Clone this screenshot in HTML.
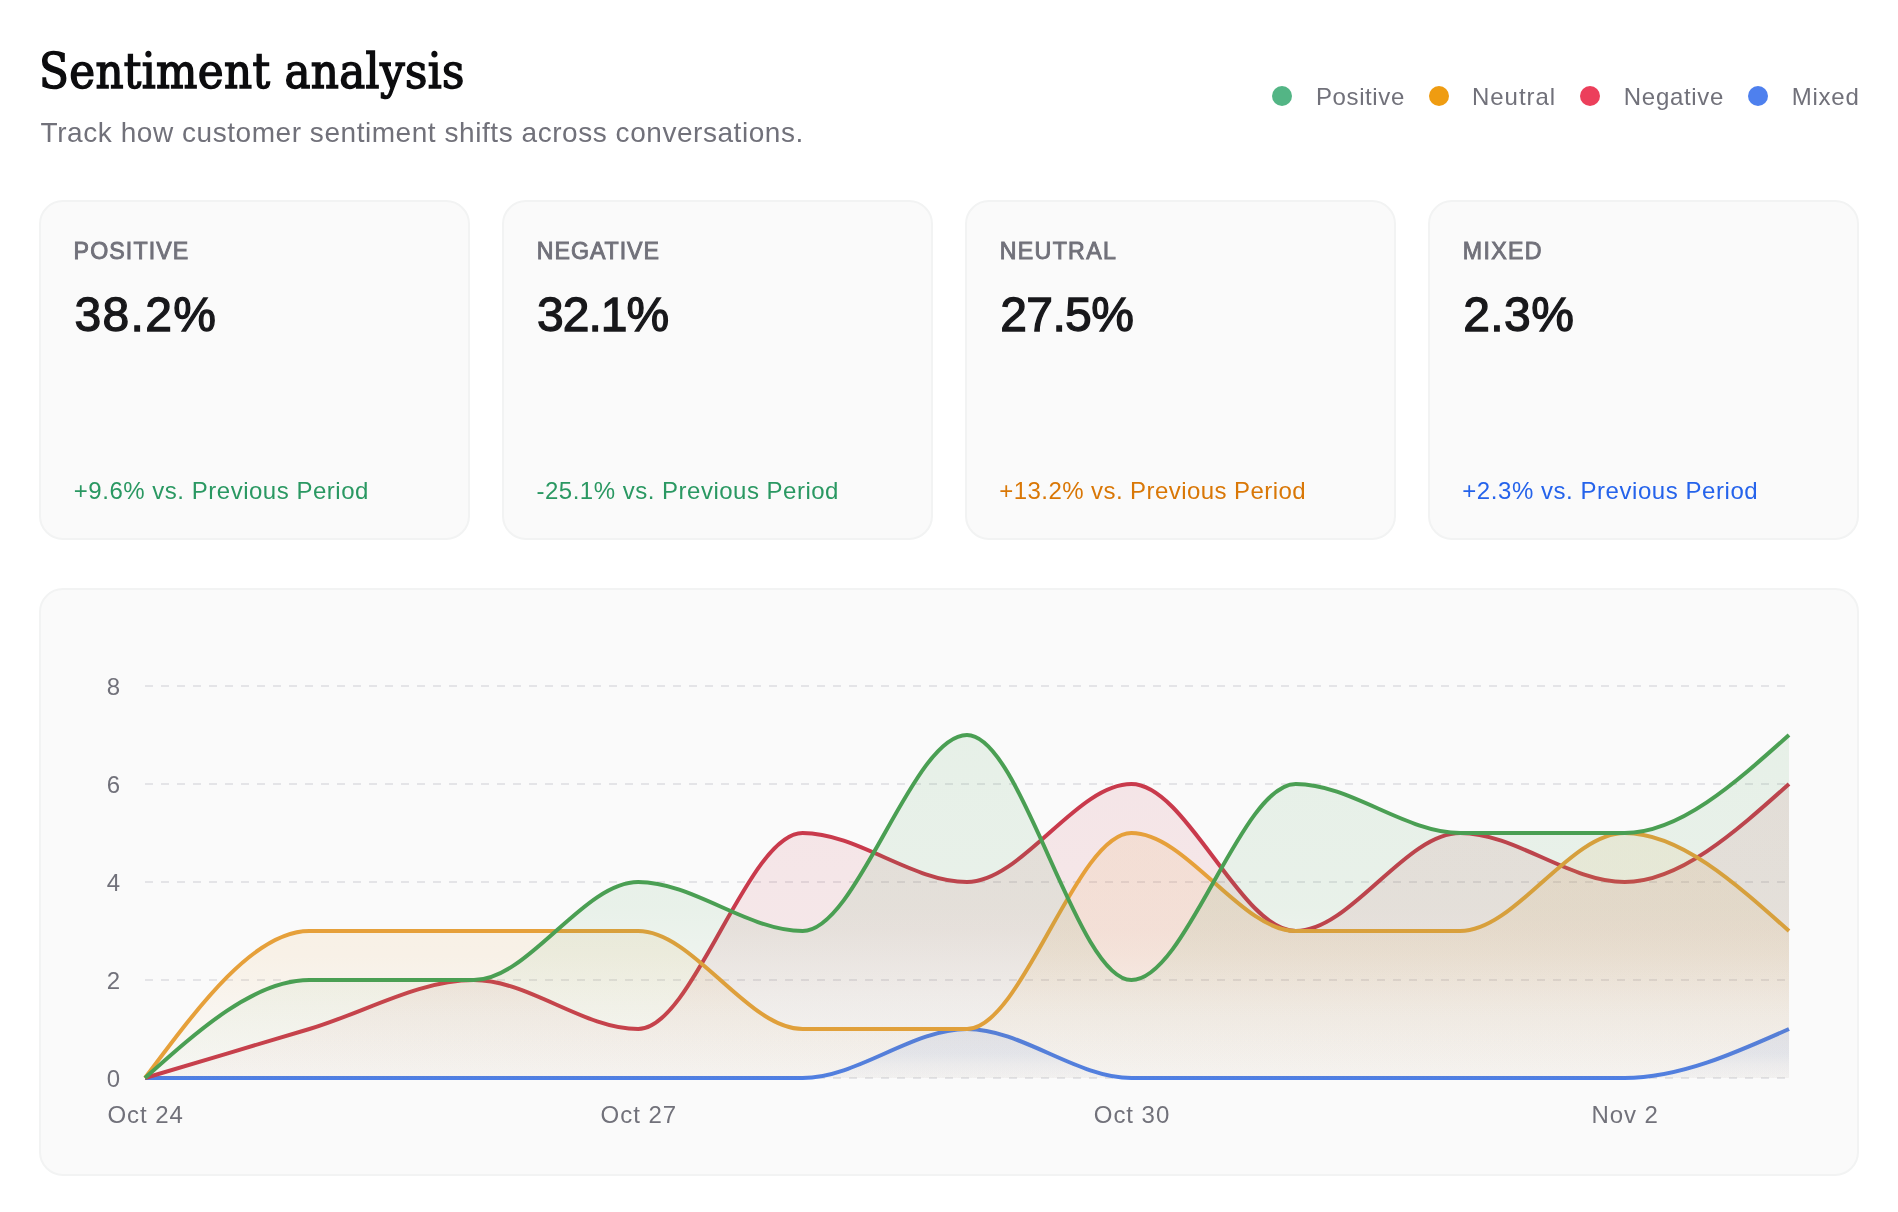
<!DOCTYPE html>
<html lang="en">
<head>
<meta charset="utf-8">
<title>Sentiment analysis</title>
<style>
*{box-sizing:border-box;margin:0;padding:0}
html,body{width:1898px;height:1212px;background:#fff;overflow:hidden}
body{position:relative;font-family:"Liberation Sans",sans-serif;color:#71717a}
#page{position:absolute;left:0;top:0;width:1898px;height:1212px;will-change:transform}
.t,h1,p,li,span{position:absolute;white-space:nowrap;font-weight:400}
ul{list-style:none}
h1{font-family:"DejaVu Serif Condensed","DejaVu Serif","Liberation Serif",serif;font-stretch:condensed;
   font-size:48.5px;line-height:48.5px;letter-spacing:.35px;color:#0c0c0e;-webkit-text-stroke:1.4px #0c0c0e}
.sub{font-size:28px;line-height:28px;letter-spacing:.55px}
.legend li{font-size:24px;line-height:24px;top:0}
.legend i{position:absolute;display:block;width:20px;height:20px;border-radius:50%;top:1.32px}
.card{position:absolute;background:#fafafa;border:2px solid #f2f3f3;border-radius:24px}
.stat{top:200px;width:431px;height:340px}
.stat .label{font-size:23.2px;line-height:23.2px;-webkit-text-stroke:.9px #71717a;left:32px}
.stat .value{font-size:48px;line-height:48px;color:#18181b;-webkit-text-stroke:1.3px #18181b;left:32px}
.stat .delta{font-size:24px;line-height:24px;left:32px}
.green{color:#2a9862}.amber{color:#d97706}.blue{color:#2563eb}
.chart{left:39px;top:588px;width:1820px;height:588px}
.chart svg{position:absolute;left:0;top:0}
</style>
</head>
<body>
<div id="page">

<header>
<h1 style="left:39px;top:46.70px">Sentiment analysis</h1>
<p class="sub" style="left:40.6px;top:118.70px">Track how customer sentiment shifts across conversations.</p>
<ul class="legend" style="position:absolute;left:0;top:84.68px">
<li style="left:1316px;letter-spacing:0.6px"><i style="left:-44px;background:#53b585"></i>Positive</li>
<li style="left:1472px;letter-spacing:0.95px"><i style="left:-43px;background:#ef9c11"></i>Neutral</li>
<li style="left:1623.8px;letter-spacing:0.7px"><i style="left:-43.8px;background:#ec3f5b"></i>Negative</li>
<li style="left:1791.8px;letter-spacing:0.75px"><i style="left:-43.8px;background:#4e80ee"></i>Mixed</li>
</ul>
</header>
<section class="stats">
<article class="card stat" style="left:39px">
<div class="t label" style="top:37.56px;margin-left:0.6px;letter-spacing:1.1px">POSITIVE</div>
<div class="t value" style="top:89.17px;margin-left:1.5px;letter-spacing:1.35px">38.2%</div>
<div class="t delta green" style="top:276.68px;margin-left:0.8px;letter-spacing:0.52px">+9.6% vs. Previous Period</div>
</article>
<article class="card stat" style="left:502px">
<div class="t label" style="top:37.56px;margin-left:0.8px;letter-spacing:0.95px">NEGATIVE</div>
<div class="t value" style="top:89.17px;margin-left:1.0px;letter-spacing:-1.0px">32.1%</div>
<div class="t delta green" style="top:276.68px;margin-left:0.5px;letter-spacing:0.5px">-25.1% vs. Previous Period</div>
</article>
<article class="card stat" style="left:965px">
<div class="t label" style="top:37.56px;margin-left:0.8px;letter-spacing:1.3px">NEUTRAL</div>
<div class="t value" style="top:89.17px;margin-left:1.2px;letter-spacing:-0.6px">27.5%</div>
<div class="t delta amber" style="top:276.68px;margin-left:0.3px;letter-spacing:0.43px">+13.2% vs. Previous Period</div>
</article>
<article class="card stat" style="left:1428px">
<div class="t label" style="top:37.56px;margin-left:0.8px;letter-spacing:1.3px">MIXED</div>
<div class="t value" style="top:89.17px;margin-left:1.2px;letter-spacing:0.45px">2.3%</div>
<div class="t delta blue" style="top:276.68px;margin-left:0.3px;letter-spacing:0.55px">+2.3% vs. Previous Period</div>
</article>
</section>
<section class="card chart">
<svg width="1816" height="584" viewBox="41 590 1816 584" role="img">
<defs>
<linearGradient id="g-mix" x1="0" y1="0" x2="0" y2="1"><stop offset="0" stop-color="#4c7fe8" stop-opacity="0.11"/><stop offset="0.5" stop-color="#4c7fe8" stop-opacity="0.1"/><stop offset="0.75" stop-color="#4c7fe8" stop-opacity="0.05"/><stop offset="1" stop-color="#4c7fe8" stop-opacity="0.02"/></linearGradient>
<linearGradient id="g-neg" x1="0" y1="0" x2="0" y2="1"><stop offset="0" stop-color="#c93a4c" stop-opacity="0.11"/><stop offset="0.5" stop-color="#c93a4c" stop-opacity="0.1"/><stop offset="0.75" stop-color="#c93a4c" stop-opacity="0.05"/><stop offset="1" stop-color="#c93a4c" stop-opacity="0.02"/></linearGradient>
<linearGradient id="g-neu" x1="0" y1="0" x2="0" y2="1"><stop offset="0" stop-color="#e6a03a" stop-opacity="0.11"/><stop offset="0.5" stop-color="#e6a03a" stop-opacity="0.1"/><stop offset="0.75" stop-color="#e6a03a" stop-opacity="0.05"/><stop offset="1" stop-color="#e6a03a" stop-opacity="0.02"/></linearGradient>
<linearGradient id="g-pos" x1="0" y1="0" x2="0" y2="1"><stop offset="0" stop-color="#4a9f53" stop-opacity="0.11"/><stop offset="0.5" stop-color="#4a9f53" stop-opacity="0.1"/><stop offset="0.75" stop-color="#4a9f53" stop-opacity="0.05"/><stop offset="1" stop-color="#4a9f53" stop-opacity="0.02"/></linearGradient>
</defs>
<g stroke="#e4e4e7" stroke-width="2" stroke-dasharray="8 8" fill="none">
<line x1="145" y1="1078" x2="1789" y2="1078"/>
<line x1="145" y1="980" x2="1789" y2="980"/>
<line x1="145" y1="882" x2="1789" y2="882"/>
<line x1="145" y1="784" x2="1789" y2="784"/>
<line x1="145" y1="686" x2="1789" y2="686"/>
</g>
<g><path d="M145.00,1078.00C199.80,1078.00,254.60,1078.00,309.40,1078.00C364.20,1078.00,419.00,1078.00,473.80,1078.00C528.60,1078.00,583.40,1078.00,638.20,1078.00C693.00,1078.00,747.80,1078.00,802.60,1078.00C857.40,1078.00,912.20,1029.00,967.00,1029.00C1021.80,1029.00,1076.60,1078.00,1131.40,1078.00C1186.20,1078.00,1241.00,1078.00,1295.80,1078.00C1350.60,1078.00,1405.40,1078.00,1460.20,1078.00C1515.00,1078.00,1569.80,1078.00,1624.60,1078.00C1679.40,1078.00,1734.20,1053.50,1789.00,1029.00L1789,1078L145,1078Z" fill="url(#g-mix)" stroke="none"/><path d="M145.00,1078.00C199.80,1078.00,254.60,1078.00,309.40,1078.00C364.20,1078.00,419.00,1078.00,473.80,1078.00C528.60,1078.00,583.40,1078.00,638.20,1078.00C693.00,1078.00,747.80,1078.00,802.60,1078.00C857.40,1078.00,912.20,1029.00,967.00,1029.00C1021.80,1029.00,1076.60,1078.00,1131.40,1078.00C1186.20,1078.00,1241.00,1078.00,1295.80,1078.00C1350.60,1078.00,1405.40,1078.00,1460.20,1078.00C1515.00,1078.00,1569.80,1078.00,1624.60,1078.00C1679.40,1078.00,1734.20,1053.50,1789.00,1029.00" fill="none" stroke="#4c7fe8" stroke-width="4" stroke-linejoin="round"/></g>
<g><path d="M145.00,1078.00C199.80,1061.67,254.60,1045.33,309.40,1029.00C364.20,1012.67,419.00,980.00,473.80,980.00C528.60,980.00,583.40,1029.00,638.20,1029.00C693.00,1029.00,747.80,833.00,802.60,833.00C857.40,833.00,912.20,882.00,967.00,882.00C1021.80,882.00,1076.60,784.00,1131.40,784.00C1186.20,784.00,1241.00,931.00,1295.80,931.00C1350.60,931.00,1405.40,833.00,1460.20,833.00C1515.00,833.00,1569.80,882.00,1624.60,882.00C1679.40,882.00,1734.20,833.00,1789.00,784.00L1789,1078L145,1078Z" fill="url(#g-neg)" stroke="none"/><path d="M145.00,1078.00C199.80,1061.67,254.60,1045.33,309.40,1029.00C364.20,1012.67,419.00,980.00,473.80,980.00C528.60,980.00,583.40,1029.00,638.20,1029.00C693.00,1029.00,747.80,833.00,802.60,833.00C857.40,833.00,912.20,882.00,967.00,882.00C1021.80,882.00,1076.60,784.00,1131.40,784.00C1186.20,784.00,1241.00,931.00,1295.80,931.00C1350.60,931.00,1405.40,833.00,1460.20,833.00C1515.00,833.00,1569.80,882.00,1624.60,882.00C1679.40,882.00,1734.20,833.00,1789.00,784.00" fill="none" stroke="#c93a4c" stroke-width="4" stroke-linejoin="round"/></g>
<g><path d="M145.00,1078.00C199.80,1004.50,254.60,931.00,309.40,931.00C364.20,931.00,419.00,931.00,473.80,931.00C528.60,931.00,583.40,931.00,638.20,931.00C693.00,931.00,747.80,1029.00,802.60,1029.00C857.40,1029.00,912.20,1029.00,967.00,1029.00C1021.80,1029.00,1076.60,833.00,1131.40,833.00C1186.20,833.00,1241.00,931.00,1295.80,931.00C1350.60,931.00,1405.40,931.00,1460.20,931.00C1515.00,931.00,1569.80,833.00,1624.60,833.00C1679.40,833.00,1734.20,882.00,1789.00,931.00L1789,1078L145,1078Z" fill="url(#g-neu)" stroke="none"/><path d="M145.00,1078.00C199.80,1004.50,254.60,931.00,309.40,931.00C364.20,931.00,419.00,931.00,473.80,931.00C528.60,931.00,583.40,931.00,638.20,931.00C693.00,931.00,747.80,1029.00,802.60,1029.00C857.40,1029.00,912.20,1029.00,967.00,1029.00C1021.80,1029.00,1076.60,833.00,1131.40,833.00C1186.20,833.00,1241.00,931.00,1295.80,931.00C1350.60,931.00,1405.40,931.00,1460.20,931.00C1515.00,931.00,1569.80,833.00,1624.60,833.00C1679.40,833.00,1734.20,882.00,1789.00,931.00" fill="none" stroke="#e6a03a" stroke-width="4" stroke-linejoin="round"/></g>
<g><path d="M145.00,1078.00C199.80,1029.00,254.60,980.00,309.40,980.00C364.20,980.00,419.00,980.00,473.80,980.00C528.60,980.00,583.40,882.00,638.20,882.00C693.00,882.00,747.80,931.00,802.60,931.00C857.40,931.00,912.20,735.00,967.00,735.00C1021.80,735.00,1076.60,980.00,1131.40,980.00C1186.20,980.00,1241.00,784.00,1295.80,784.00C1350.60,784.00,1405.40,833.00,1460.20,833.00C1515.00,833.00,1569.80,833.00,1624.60,833.00C1679.40,833.00,1734.20,784.00,1789.00,735.00L1789,1078L145,1078Z" fill="url(#g-pos)" stroke="none"/><path d="M145.00,1078.00C199.80,1029.00,254.60,980.00,309.40,980.00C364.20,980.00,419.00,980.00,473.80,980.00C528.60,980.00,583.40,882.00,638.20,882.00C693.00,882.00,747.80,931.00,802.60,931.00C857.40,931.00,912.20,735.00,967.00,735.00C1021.80,735.00,1076.60,980.00,1131.40,980.00C1186.20,980.00,1241.00,784.00,1295.80,784.00C1350.60,784.00,1405.40,833.00,1460.20,833.00C1515.00,833.00,1569.80,833.00,1624.60,833.00C1679.40,833.00,1734.20,784.00,1789.00,735.00" fill="none" stroke="#4a9f53" stroke-width="4" stroke-linejoin="round"/></g>
<g font-family="'Liberation Sans', sans-serif" font-size="24" fill="#71717a">
<text x="120" y="1086.5" text-anchor="end">0</text>
<text x="120" y="988.5" text-anchor="end">2</text>
<text x="120" y="890.5" text-anchor="end">4</text>
<text x="120" y="792.5" text-anchor="end">6</text>
<text x="120" y="694.5" text-anchor="end">8</text>
<text x="145.6" y="1122.6" text-anchor="middle" letter-spacing="0.95">Oct 24</text>
<text x="638.8" y="1122.6" text-anchor="middle" letter-spacing="0.95">Oct 27</text>
<text x="1132.0" y="1122.6" text-anchor="middle" letter-spacing="0.95">Oct 30</text>
<text x="1625.2" y="1122.6" text-anchor="middle" letter-spacing="0.95">Nov 2</text>
</g>
</svg>
</section>
</div>
</body>
</html>
